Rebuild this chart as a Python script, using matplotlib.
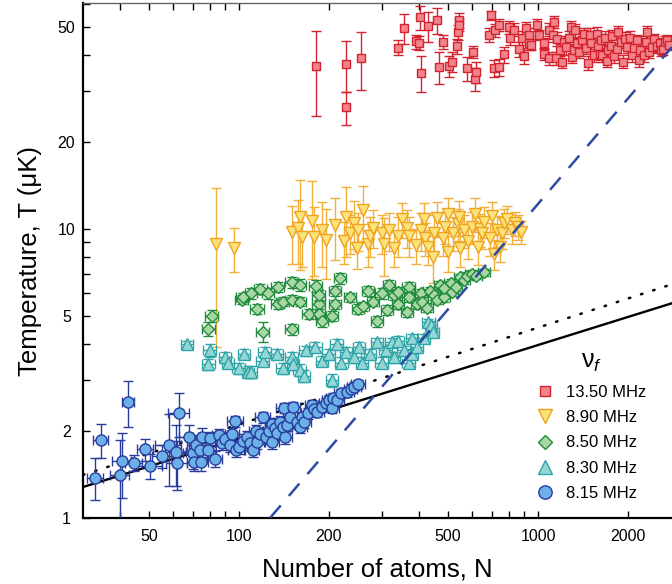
import matplotlib
matplotlib.use('Agg')
from matplotlib import pyplot as plt
from matplotlib.lines import Line2D
from matplotlib.ticker import LogLocator, FixedLocator, FixedFormatter, NullFormatter
import numpy as np

plt.rcParams['font.family'] = ['Liberation Sans', 'DejaVu Sans']
plt.rcParams['mathtext.fontset'] = 'custom'
plt.rcParams['mathtext.rm'] = 'Liberation Sans'
plt.rcParams['mathtext.it'] = 'Liberation Sans:italic'

# (N, T [uK], dT)
red_pts = [
    (181, 36.6, 12.0), (228, 37.3, 7.5), (228, 26.4, 3.5), (255, 39.2, 9.0), (340, 42.5, 2.5),
    (356, 49.7, 6.0), (390, 44.6, 2.5), (400, 44.0, 2.5), (403, 54.0, 5.0), (405, 34.7, 5.0),
    (430, 50.5, 6.0), (460, 52.8, 5.5), (466, 36.4, 4.5), (480, 44.4, 2.5), (505, 36.7, 3.0),
    (515, 38.0, 3.0), (535, 43.0, 2.5), (540, 48.0, 3.0), (545, 52.8, 3.0), (545, 50.9, 2.5),
    (580, 36.0, 3.5), (605, 41.0, 2.0), (615, 33.0, 3.0), (620, 35.0, 3.0), (695, 55.0, 2.0),
    (685, 47.0, 2.5), (712, 36.0, 2.5), (740, 36.3, 2.5), (720, 48.8, 2.5), (740, 50.9, 2.5),
    (770, 40.2, 2.5), (800, 50.0, 2.5), (805, 46.0, 2.5), (830, 49.0, 2.5), (865, 42.0, 2.5),
    (885, 46.0, 2.5), (900, 39.8, 2.5), (915, 49.7, 2.5), (930, 47.0, 2.5), (935, 44.0, 2.5),
    (950, 43.5, 2.0), (990, 51.0, 2.5), (1010, 47.0, 2.0), (1050, 44.0, 2.0), (1050, 40.5, 2.0),
    (1090, 49.0, 2.5), (1085, 39.0, 2.0), (1120, 47.0, 2.5), (1130, 52.0, 2.5), (1150, 39.0, 2.0),
    (1160, 45.6, 2.5), (1180, 41.6, 2.0), (1200, 38.0, 2.0), (1220, 44.5, 2.0), (1240, 42.6, 2.5),
    (1265, 46.0, 2.5), (1290, 50.0, 2.5), (1300, 39.5, 2.0), (1320, 41.6, 2.0), (1330, 48.8, 2.5),
    (1350, 44.0, 2.0), (1370, 41.0, 2.0), (1400, 45.0, 2.5), (1420, 47.5, 2.0), (1450, 42.5, 2.0),
    (1470, 37.6, 2.0), (1495, 47.0, 2.5), (1500, 44.0, 2.0), (1540, 40.0, 2.0), (1580, 47.5, 2.5),
    (1590, 43.0, 2.0), (1610, 40.5, 2.0), (1620, 45.0, 2.5), (1640, 40.0, 2.0), (1680, 46.0, 2.5),
    (1700, 38.3, 2.0), (1720, 41.5, 2.0), (1760, 43.0, 2.0), (1770, 46.4, 2.5), (1800, 39.6, 2.0),
    (1830, 42.0, 2.0), (1850, 48.0, 2.5), (1890, 44.4, 2.0), (1920, 38.0, 2.0), (1950, 45.5, 2.5),
    (1980, 42.6, 2.0), (2030, 46.0, 2.5), (2060, 40.0, 2.0), (2100, 42.5, 2.0), (2140, 45.0, 2.0),
    (2180, 38.5, 2.0), (2200, 41.6, 2.0), (2260, 40.0, 2.0), (2290, 44.4, 2.0), (2320, 48.0, 2.5),
    (2350, 41.0, 2.0), (2400, 42.6, 2.0), (2450, 45.5, 2.0), (2490, 43.0, 2.0), (2550, 44.0, 2.0),
    (2580, 41.6, 2.0), (2620, 42.0, 2.0), (2650, 44.4, 2.0), (2700, 45.0, 2.0), (2750, 43.5, 2.0),
]

yellow_pts = [
    (84, 8.9, 5.0), (96, 8.6, 1.5), (151, 9.8, 2.2), (160, 11.0, 3.8), (158, 10.1, 2.5),
    (163, 9.4, 2.0), (175, 10.7, 4.0), (178, 9.4, 2.5), (190, 9.9, 2.5), (195, 9.2, 2.5),
    (210, 10.3, 2.5), (224, 9.1, 1.5), (228, 11.0, 3.0), (235, 9.7, 1.5), (243, 10.5, 2.0),
    (248, 8.6, 1.3), (250, 9.9, 1.5), (260, 11.6, 2.5), (270, 8.9, 1.5), (275, 9.5, 1.5),
    (280, 10.1, 1.5), (300, 9.7, 1.5), (305, 8.9, 2.0), (318, 9.9, 1.5), (330, 8.6, 1.2),
    (340, 9.5, 1.5), (350, 10.8, 1.5), (365, 10.1, 1.5), (370, 9.5, 1.5), (390, 8.8, 1.2),
    (405, 9.9, 1.5), (415, 10.8, 1.5), (420, 9.3, 1.2), (430, 8.7, 1.2), (445, 8.0, 1.5),
    (450, 9.7, 1.5), (460, 10.9, 1.5), (480, 9.3, 1.2), (490, 10.2, 1.3), (500, 11.3, 1.5),
    (500, 8.3, 1.2), (520, 9.7, 1.3), (540, 10.4, 1.3), (545, 11.0, 1.5), (550, 8.6, 1.2),
    (565, 9.9, 1.3), (585, 9.1, 1.2), (600, 10.2, 1.3), (615, 11.3, 1.5), (630, 8.7, 1.2),
    (640, 10.0, 1.3), (650, 9.7, 1.2), (660, 10.6, 1.3), (690, 9.3, 1.2), (700, 11.1, 1.3),
    (710, 8.2, 1.0), (730, 9.9, 1.2), (745, 8.7, 1.0), (755, 9.7, 1.2), (770, 10.5, 1.2),
    (790, 10.8, 1.2), (820, 9.9, 1.0), (835, 10.5, 1.0), (860, 10.2, 1.0), (880, 9.8, 0.9),
]

# (N, T [uK], dT, dN)
green_pts = [
    (81, 5.0, 0.25, 4), (79, 4.5, 0.25, 4), (102, 5.7, 0.2, 5), (103, 5.8, 0.2, 5),
    (110, 6.0, 0.25, 5), (115, 5.3, 0.2, 6), (118, 6.2, 0.25, 6), (120, 4.4, 0.35, 6),
    (125, 6.0, 0.25, 6), (135, 6.3, 0.25, 7), (135, 5.5, 0.2, 7), (140, 5.6, 0.2, 7),
    (150, 5.7, 0.2, 7), (150, 6.55, 0.3, 7), (150, 4.5, 0.2, 7), (160, 5.6, 0.2, 8),
    (160, 6.4, 0.3, 8), (171, 5.1, 0.2, 8), (181, 6.35, 0.3, 9), (185, 5.5, 0.2, 9),
    (185, 5.9, 0.25, 9), (185, 5.1, 0.2, 9), (190, 4.8, 0.2, 9), (205, 5.0, 0.2, 10),
    (210, 6.1, 0.25, 10), (210, 5.5, 0.2, 10), (218, 6.75, 0.3, 10), (235, 5.8, 0.2, 11),
    (250, 5.3, 0.2, 12), (260, 5.4, 0.2, 12), (270, 6.1, 0.25, 13), (280, 5.6, 0.2, 13),
    (290, 4.8, 0.2, 14), (300, 6.0, 0.25, 14), (313, 5.25, 0.2, 15), (318, 6.4, 0.25, 15),
    (330, 5.9, 0.2, 16), (340, 6.05, 0.25, 16), (340, 5.5, 0.2, 16), (365, 5.15, 0.2, 17),
    (370, 6.3, 0.25, 18), (370, 5.8, 0.2, 18), (395, 5.5, 0.2, 19), (405, 6.0, 0.2, 19),
    (410, 5.6, 0.2, 20), (425, 5.35, 0.2, 20), (435, 6.1, 0.2, 21), (450, 5.9, 0.2, 21),
    (460, 5.7, 0.2, 22), (470, 6.4, 0.2, 22), (485, 5.8, 0.2, 23), (485, 6.25, 0.2, 23),
    (510, 6.5, 0.2, 24), (515, 6.05, 0.2, 24), (530, 6.3, 0.2, 25), (550, 6.8, 0.2, 26),
    (565, 6.65, 0.2, 27), (580, 6.9, 0.2, 28), (600, 7.0, 0.2, 29), (620, 6.9, 0.2, 30),
    (660, 7.1, 0.2, 31),
]

cyan_pts = [
    (67, 4.0, 0.1, 3), (80, 3.8, 0.2, 4), (79, 3.4, 0.15, 4), (90, 3.6, 0.15, 4),
    (92, 3.45, 0.15, 4), (100, 3.3, 0.15, 5), (104, 3.7, 0.15, 5), (107, 3.2, 0.15, 5),
    (110, 3.2, 0.15, 5), (120, 3.5, 0.15, 6), (122, 3.75, 0.15, 6), (134, 3.7, 0.15, 6),
    (140, 3.3, 0.15, 7), (150, 3.6, 0.15, 7), (152, 3.4, 0.15, 7), (160, 3.25, 0.15, 8),
    (165, 3.1, 0.15, 8), (167, 3.8, 0.15, 8), (180, 3.9, 0.15, 9), (190, 3.5, 0.15, 9),
    (200, 3.7, 0.15, 10), (205, 3.0, 0.15, 10), (212, 4.0, 0.15, 10), (220, 3.45, 0.15, 11),
    (228, 3.75, 0.15, 11), (243, 3.6, 0.15, 12), (252, 3.9, 0.15, 12), (258, 3.45, 0.15, 12),
    (275, 3.7, 0.15, 13), (290, 4.05, 0.15, 14), (300, 3.45, 0.15, 14), (310, 3.8, 0.15, 15),
    (325, 4.05, 0.15, 16), (330, 3.6, 0.15, 16), (340, 4.1, 0.15, 16), (355, 3.8, 0.15, 17),
    (370, 3.45, 0.15, 18), (380, 4.2, 0.15, 18), (380, 3.7, 0.15, 18), (395, 3.9, 0.15, 19),
    (415, 4.2, 0.15, 20), (430, 4.75, 0.15, 21), (440, 4.65, 0.15, 21), (445, 4.4, 0.15, 21),
]

blue_pts = [
    (33, 1.38, 0.23, 2), (34.6, 1.86, 0.25, 2), (40, 1.41, 0.45, 3), (40.6, 1.57, 0.4, 3),
    (42.6, 2.52, 0.45, 2), (44.5, 1.55, 0.1, 3), (48.6, 1.73, 0.15, 3), (50.5, 1.51, 0.15, 5),
    (55.3, 1.64, 0.15, 4), (58.2, 1.79, 0.5, 6), (61.5, 1.69, 0.4, 5), (62, 1.55, 0.3, 5),
    (63, 2.31, 0.4, 5), (68, 1.9, 0.2, 5), (70, 1.68, 0.2, 5), (71, 1.56, 0.1, 4),
    (72, 1.79, 0.15, 5), (74, 1.72, 0.1, 5), (74.5, 1.56, 0.1, 4), (75, 1.9, 0.15, 5),
    (79, 1.72, 0.1, 5), (80, 1.89, 0.1, 5), (83, 1.6, 0.1, 5), (86, 1.94, 0.1, 5),
    (88, 1.82, 0.1, 5), (90, 1.88, 0.1, 5), (93, 1.79, 0.1, 5), (95, 1.95, 0.1, 5),
    (97, 2.16, 0.1, 6), (98, 1.72, 0.1, 6), (100, 1.76, 0.1, 6), (103, 1.85, 0.1, 6),
    (106, 1.9, 0.1, 6), (109, 1.82, 0.1, 6), (111, 1.72, 0.1, 6), (114, 2.0, 0.1, 6),
    (115, 1.83, 0.1, 6), (118, 1.95, 0.1, 6), (120, 2.23, 0.1, 7), (123, 1.9, 0.1, 7),
    (126, 2.0, 0.1, 7), (129, 2.12, 0.1, 7), (129, 1.83, 0.1, 7), (132, 2.05, 0.1, 7),
    (134, 1.97, 0.1, 7), (137, 2.15, 0.1, 7), (140, 2.07, 0.1, 8), (141, 2.4, 0.1, 8),
    (143, 1.9, 0.1, 8), (145, 2.1, 0.1, 8), (148, 2.23, 0.1, 8), (152, 2.42, 0.1, 8),
    (156, 2.15, 0.1, 8), (160, 2.07, 0.1, 9), (162, 2.23, 0.1, 9), (165, 2.15, 0.1, 9),
    (170, 2.3, 0.1, 9), (175, 2.46, 0.1, 9), (178, 2.38, 0.1, 10), (182, 2.33, 0.1, 10),
    (189, 2.42, 0.1, 10), (195, 2.5, 0.1, 10), (200, 2.56, 0.1, 11), (205, 2.4, 0.1, 11),
    (207, 2.6, 0.1, 11), (213, 2.56, 0.1, 11), (220, 2.7, 0.1, 12), (230, 2.72, 0.1, 12),
    (237, 2.8, 0.1, 12), (243, 2.85, 0.1, 13), (250, 2.9, 0.1, 13),
]

# power-law guide lines: T = T0 * (N / N0) ** p
solid_fit = dict(N0=30.1, T0=1.28, p=0.323)
dotted_fit = dict(N0=30.1, T0=1.41, p=0.335)
dashed_fit = dict(N0=127.0, T0=1.0, p=1.213)

legend_labels = ['13.50 MHz', '8.90 MHz', '8.50 MHz', '8.30 MHz', '8.15 MHz']

styles = {
    'red': dict(marker='s', mfc='#f2838b', mec='#d2232e', ecolor='#d2232e', ms=6.4),
    'yellow': dict(marker='v', mfc='#fbe27a', mec='#f0a31f', ecolor='#f2b03a', ms=8.6),
    'green': dict(marker='D', mfc='#a8d7a5', mec='#1f8b3b', ecolor='#1f8b3b', ms=6.0),
    'cyan': dict(marker='^', mfc='#93d6d6', mec='#2fa4a6', ecolor='#2fa4a6', ms=8.4),
    'blue': dict(marker='o', mfc='#6cb0e8', mec='#283c9c', ecolor='#283c9c', ms=8.0),
}

xmin, xmax = 30.1, 2805
ymin, ymax = 1.0, 60.4

fig = plt.figure(figsize=(6.72, 5.84), dpi=100)
ax = fig.add_axes([83 / 672, 66 / 584, 1 - 83 / 672, (518 - 3.4) / 584])
ax.set_xscale('log')
ax.set_yscale('log')
ax.set_xlim(xmin, xmax)
ax.set_ylim(ymin, ymax)

# guide lines
N_line = np.logspace(np.log10(xmin), np.log10(xmax), 300)
for fit, kw in ((solid_fit, dict(color='black', lw=1.7, ls='-', zorder=1)),
                (dotted_fit, dict(color='black', lw=1.8, ls=(0, (0.6, 4.5)),
                                  dash_capstyle='round', zorder=1))):
    ax.plot(N_line, fit['T0'] * (N_line / fit['N0']) ** fit['p'], **kw)
Nd = N_line[N_line >= dashed_fit['N0']]
ax.plot(Nd, dashed_fit['T0'] * (Nd / dashed_fit['N0']) ** dashed_fit['p'],
        color='#2e4aa3', lw=1.8, ls=(0, (6.5, 5)), zorder=6)


def draw(pts, st, z):
    arr = np.array(pts, dtype=float)
    xerr = arr[:, 3] if arr.shape[1] > 3 else None
    ax.errorbar(arr[:, 0], arr[:, 1], yerr=arr[:, 2], xerr=xerr, fmt=st['marker'], ls='none',
                ms=st['ms'], mfc=st['mfc'], mec=st['mec'], mew=1.0, ecolor=st['ecolor'],
                elinewidth=1.0, capsize=3.4, capthick=1.0, zorder=z)


draw(red_pts, styles['red'], 3)
draw(yellow_pts, styles['yellow'], 3)
draw(green_pts, styles['green'], 3)
draw(cyan_pts, styles['cyan'], 3)
draw(blue_pts, styles['blue'], 4)

# ticks
ax.xaxis.set_major_locator(FixedLocator([50, 100, 200, 500, 1000, 2000]))
ax.xaxis.set_major_formatter(FixedFormatter(['50', '100', '200', '500', '1000', '2000']))
ax.xaxis.set_minor_locator(LogLocator(base=10, subs=np.arange(1, 10)))
ax.xaxis.set_minor_formatter(NullFormatter())
ax.yaxis.set_major_locator(FixedLocator([1, 2, 5, 10, 20, 50]))
ax.yaxis.set_major_formatter(FixedFormatter(['1', '2', '5', '10', '20', '50']))
ax.yaxis.set_minor_locator(LogLocator(base=10, subs=np.arange(1, 10)))
ax.yaxis.set_minor_formatter(NullFormatter())
ax.tick_params(which='both', direction='in', length=5, width=1.0, top=True, right=False,
               labelsize=11.5)
ax.tick_params(axis='x', which='both', pad=8)
ax.tick_params(axis='y', which='both', pad=12)
for lab in ax.get_yticklabels():
    lab.set_horizontalalignment('center')

ax.spines['right'].set_visible(False)
ax.spines['left'].set_linewidth(1.6)
ax.spines['bottom'].set_linewidth(1.6)
ax.spines['top'].set_linewidth(1.0)
ax.spines['top'].set_color('#666666')

ax.set_xlabel('Number of atoms, N', fontsize=18.5, labelpad=10)
ax.set_ylabel('Temperature, T (\u03bcK)', fontsize=18.5, labelpad=11)

handles = []
for key in ('red', 'yellow', 'green', 'cyan', 'blue'):
    st = styles[key]
    handles.append(Line2D([], [], ls='none', marker=st['marker'], mfc=st['mfc'], mec=st['mec'],
                          mew=1.0, ms=st['ms'] * 1.2))
leg = ax.legend(handles, legend_labels, title='\u03bd$_{f}$', title_fontsize=18, fontsize=12,
                frameon=False, loc='upper left', bbox_to_anchor=(0.771, 0.328),
                borderaxespad=0, borderpad=0, handlelength=1.0, handletextpad=0.75,
                labelspacing=0.62)
leg.set_zorder(10)

fig.savefig('out.png', dpi=100)
